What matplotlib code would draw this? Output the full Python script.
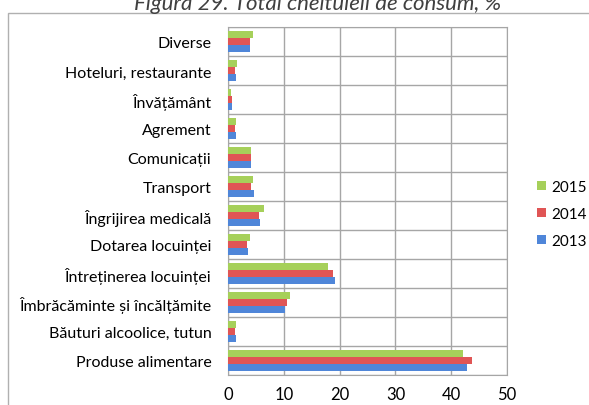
import numpy as np
import matplotlib.pyplot as plt
from matplotlib.patches import Rectangle

plt.rcParams['font.family'] = ['Lato', 'DejaVu Sans']

# categories from bottom to top
categories = ['Produse alimentare', 'Băuturi alcoolice, tutun',
              'Îmbrăcăminte și încălțămite', 'Întreținerea locuinței',
              'Dotarea locuinței', 'Îngrijirea medicală', 'Transport',
              'Comunicații', 'Agrement', 'Învățământ',
              'Hoteluri, restaurante', 'Diverse']
v2013 = [42.8, 1.4, 10.3, 19.2, 3.6, 5.7, 4.7, 4.1, 1.4, 0.8, 1.4, 3.9]
v2014 = [43.7, 1.25, 10.6, 18.8, 3.4, 5.6, 4.2, 4.2, 1.25, 0.65, 1.3, 3.9]
v2015 = [42.1, 1.4, 11.2, 17.9, 3.9, 6.5, 4.5, 4.2, 1.4, 0.6, 1.6, 4.4]

fig = plt.figure(figsize=(5.89, 4.06), dpi=100)
ax = fig.add_axes([0.387, 0.073, 0.474, 0.857])

# outer chart frame
fig.patches.append(Rectangle((8 / 589, -0.1), 1.0, 1 - 14 / 406 + 0.1,
                             transform=fig.transFigure, fill=False,
                             edgecolor='#b0b0b0', linewidth=1.0))
fig.text(0.54, 1 - 10 / 406, 'Figura 29. Total cheltuieli de consum, %',
         ha='center', va='baseline', fontsize=16, style='italic',
         color='#404040')

y = np.arange(len(categories))
h = 0.24
ax.barh(y - h, v2013, h, color='#4f86d9', label='2013', zorder=3)
ax.barh(y, v2014, h, color='#e05555', label='2014', zorder=3)
ax.barh(y + h, v2015, h, color='#a6d05a', label='2015', zorder=3)

ax.set_xlim(0, 50)
ax.set_ylim(-0.5, len(categories) - 0.5)
ax.set_xticks(range(0, 51, 10))
ax.set_yticks(y)
ax.set_yticklabels(categories)
ax.set_yticks(np.arange(-0.5, len(categories), 1), minor=True)
ax.tick_params(axis='y', which='both', length=0, labelsize=11.5, pad=12)
ax.tick_params(axis='x', length=0, labelsize=12, pad=8)
ax.grid(axis='x', color='#a6a6a6', linewidth=1, zorder=0)
ax.grid(axis='y', which='minor', color='#a6a6a6', linewidth=1, zorder=0)
ax.grid(axis='y', which='major', visible=False)
for s in ax.spines.values():
    s.set_color('#a6a6a6')

handles, labels = ax.get_legend_handles_labels()
ax.legend(handles[::-1], labels[::-1], loc='center left',
          bbox_to_anchor=(1.107, 0.464), frameon=False, fontsize=11,
          handlelength=0.6, handleheight=0.6, handletextpad=0.35,
          labelspacing=0.85, borderpad=0, borderaxespad=0)

fig.savefig('out.png', dpi=100)
